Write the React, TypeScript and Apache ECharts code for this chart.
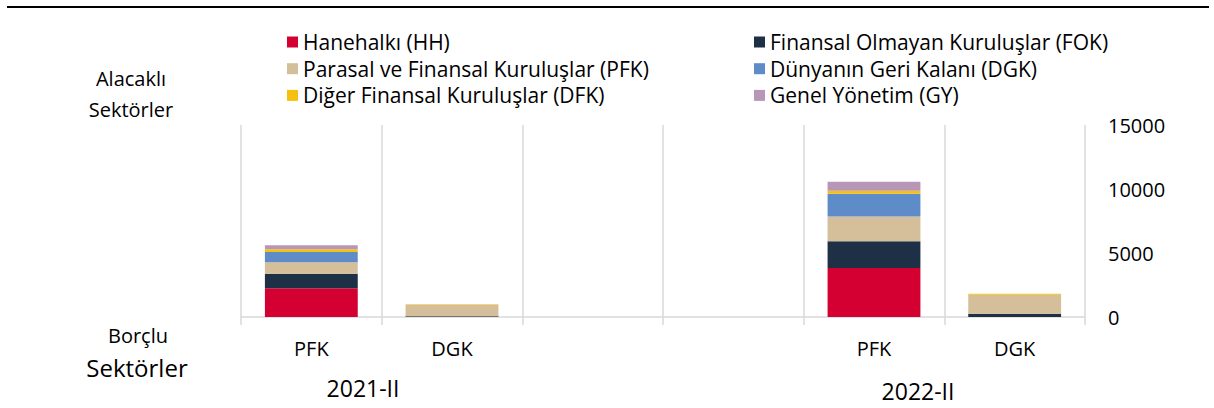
import React, { useEffect, useRef } from "react";
import * as echarts from "echarts";

const categories = ["PFK", "DGK", "", "", "PFK", "DGK"];
const seriesNames = [
  "Hanehalkı (HH)",
  "Finansal Olmayan Kuruluşlar (FOK)",
  "Parasal ve Finansal Kuruluşlar (PFK)",
  "Dünyanın Geri Kalanı (DGK)",
  "Diğer Finansal Kuruluşlar (DFK)",
  "Genel Yönetim (GY)",
];
const hh = [2240, 0, null, null, 3830, 0];
const fok = [1140, 60, null, null, 2080, 260];
const pfk = [890, 900, null, null, 1950, 1480];
const dgk = [800, 0, null, null, 1770, 0];
const dfk = [230, 30, null, null, 230, 80];
const gy = [310, 0, null, null, 700, 0];
const seriesValues = [hh, fok, pfk, dgk, dfk, gy];
const colors = ["#D50032", "#1D3045", "#D5BE9A", "#5E8CC8", "#F7C00F", "#B896B8"];
const yTicks = { min: 0, max: 15000, interval: 5000 };
const groupLabels = ["2021-II", "2022-II"];

const FONT = "Open Sans";

export default function App() {
  const ref = useRef<HTMLDivElement>(null);
  useEffect(() => {
    if (!ref.current) return;
    const chart = echarts.init(ref.current, null, { renderer: "svg" });
    const legendCommon = {
      orient: "vertical",
      top: 26,
      itemWidth: 11,
      itemHeight: 11,
      itemGap: 4.7,
      icon: "rect",
      selectedMode: false,
      textStyle: { fontSize: 21, lineHeight: 22, color: "#000", fontFamily: FONT },
    };
    chart.setOption({
      animation: false,
      textStyle: { fontFamily: FONT },
      grid: { left: 241, right: 129, top: 125, bottom: 91, containLabel: false },
      legend: [
        { ...legendCommon, left: 282, data: [seriesNames[0], seriesNames[2], seriesNames[4]] },
        { ...legendCommon, left: 749, data: [seriesNames[1], seriesNames[3], seriesNames[5]] },
      ],
      xAxis: {
        type: "category",
        data: categories,
        boundaryGap: true,
        axisLine: { show: true, lineStyle: { color: "#d9d9d9", width: 1.5 } },
        axisTick: { show: true, length: 8, lineStyle: { color: "#d9d9d9", width: 1.5 } },
        splitLine: { show: true, lineStyle: { color: "#d9d9d9", width: 1.5 } },
        axisLabel: { color: "#000", fontSize: 20, margin: 21, fontFamily: FONT },
      },
      yAxis: {
        type: "value",
        position: "right",
        min: yTicks.min,
        max: yTicks.max,
        interval: yTicks.interval,
        splitLine: { show: false },
        axisLine: { show: false },
        axisTick: { show: false },
        axisLabel: {
          color: "#000",
          fontSize: 20,
          margin: 23,
          fontFamily: FONT,
          formatter: (v: number) => String(v),
        },
      },
      series: seriesNames.map((name, i) => ({
        name,
        type: "bar",
        stack: "total",
        barWidth: "66%",
        data: seriesValues[i],
        itemStyle: { color: colors[i] },
      })),
      graphic: [
        {
          type: "line",
          shape: { x1: 7, y1: 7, x2: 1209, y2: 7 },
          style: { stroke: "#000", lineWidth: 2 },
        },
        {
          type: "text",
          x: 131,
          y: 78,
          style: { text: "Alacaklı", fontSize: 20, fontFamily: FONT, fill: "#000", textAlign: "center", textVerticalAlign: "middle" },
        },
        {
          type: "text",
          x: 131,
          y: 109,
          style: { text: "Sektörler", fontSize: 20, fontFamily: FONT, fill: "#000", textAlign: "center", textVerticalAlign: "middle" },
        },
        {
          type: "text",
          x: 138,
          y: 335,
          style: { text: "Borçlu", fontSize: 20, fontFamily: FONT, fill: "#000", textAlign: "center", textVerticalAlign: "middle" },
        },
        {
          type: "text",
          x: 137,
          y: 367,
          style: { text: "Sektörler", fontSize: 24, fontFamily: FONT, fill: "#000", textAlign: "center", textVerticalAlign: "middle" },
        },
        {
          type: "text",
          x: 363,
          y: 388,
          style: { text: groupLabels[0], fontSize: 23, fontFamily: FONT, fill: "#000", textAlign: "center", textVerticalAlign: "middle" },
        },
        {
          type: "text",
          x: 918,
          y: 391,
          style: { text: groupLabels[1], fontSize: 23, fontFamily: FONT, fill: "#000", textAlign: "center", textVerticalAlign: "middle" },
        },
      ],
    });
    return () => chart.dispose();
  }, []);
  return (
    <div
      ref={ref}
      style={{ position: "absolute", left: 0, top: 0, width: 1214, height: 408 }}
    />
  );
}
